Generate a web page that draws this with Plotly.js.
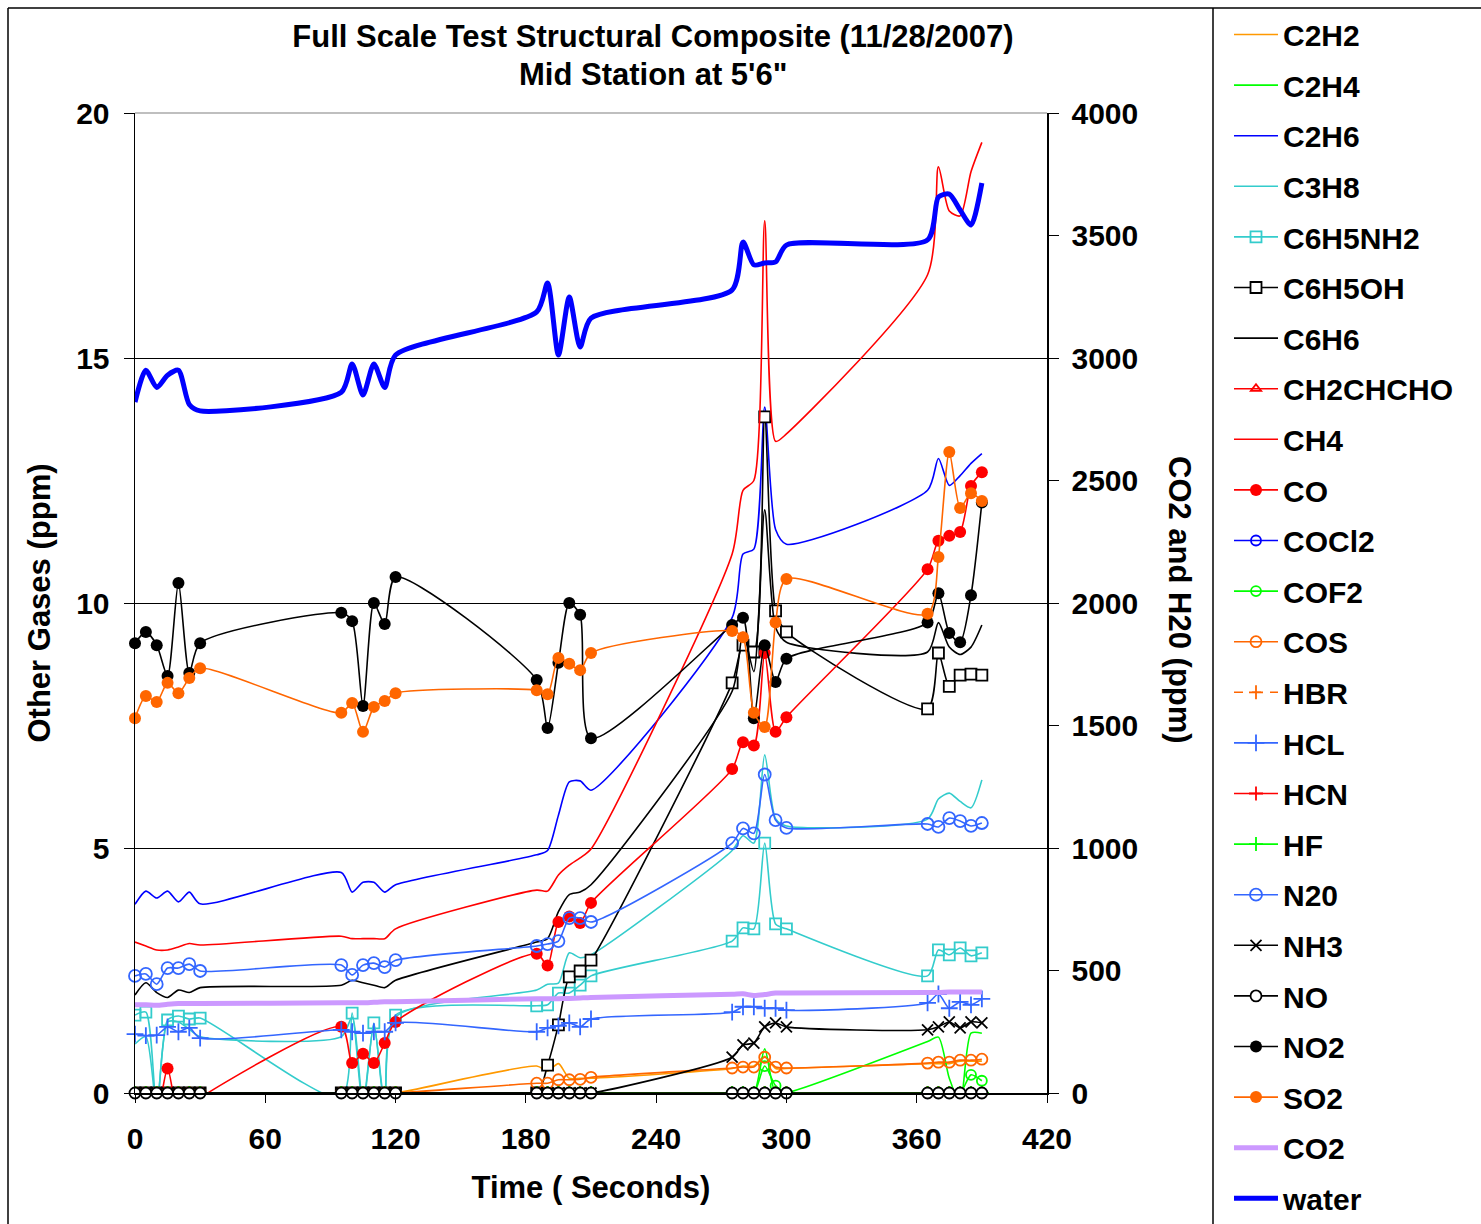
<!DOCTYPE html>
<html>
<head>
<meta charset="utf-8">
<script src="https://cdn.plot.ly/plotly-3.0.1.min.js"></script>
<style>
  html, body { margin: 0; padding: 0; background: #fff; }
  #chart { width: 1481px; height: 1224px; }
</style>
</head>
<body>
<div id="chart"></div>
<script>
// Sample times (seconds) shared by every gas series
const time = [0, 5, 10, 15, 20, 25, 30,
              95, 100, 105, 110, 115, 120,
              185, 190, 195, 200, 205, 210,
              275, 280, 285, 290, 295, 300,
              365, 370, 375, 380, 385, 390];

// Other gases (ppm, left axis)
const c2h2 = [0, 0, 0, 0, 0, 0, 0,  0, 0, 0, 0, 0, 0,
              0.55, 0.45, 0.6, 0.3, 0.3, 0.3,  0.5, 0.55, 0.55, 0.75, 0.5, 0.5,
              0.6, 0.6, 0.6, 0.65, 0.65, 0.65];
const c2h4 = [0, 0, 0, 0, 0, 0, 0,  0, 0, 0, 0, 0, 0,  0, 0, 0, 0, 0, 0,
              0, 0, 0, 0.9, 0, 0,  1.05, 1.14, 0.3, -0.2, 1.22, 1.22];
const c2h6 = [3.85, 4.12, 3.98, 4.12, 3.9, 4.1, 3.86,
              4.5, 4.1, 4.3, 4.3, 4.1, 4.25,
              4.86, 4.95, 5.67, 6.35, 6.37, 6.18,
              9.7, 11.0, 11.1, 14.0, 11.5, 11.2,
              12.3, 12.95, 12.4, 12.6, 12.85, 13.05];
const c3h8 = [1.0, 1.15, -0.3, 1.45, 1.45, 1.3, 1.15,
              1.15, 1.55, -0.2, 1.4, -0.2, 1.55,
              2.1, 2.22, 2.24, 2.86, 2.76, 2.82,
              4.95, 5.25, 5.1, 6.9, 5.6, 5.45,
              5.59, 6.0, 6.12, 5.95, 5.82, 6.39];
const c6h5nh2 = [1.59, 1.65, -0.3, 1.49, 1.57, 1.51, 1.53,
                 -0.1, 1.63, -0.3, 1.43, -0.3, 1.59,
                 1.78, 1.8, 2.04, 2.04, 2.2, 2.39,
                 3.1, 3.37, 3.35, 5.1, 3.45, 3.35,
                 2.39, 2.92, 2.82, 2.96, 2.8, 2.86];
const c6h5oh = [0, 0, 0, 0, 0, 0, 0,  0, 0, 0, 0, 0, 0,
                0, 0.57, 1.39, 2.37, 2.49, 2.71,
                8.37, 9.14, 9.0, 13.8, 9.84, 9.41,
                7.84, 8.98, 8.3, 8.53, 8.55, 8.53];
const c6h6 = [2.0, 2.25, 2.05, 1.95, 2.1, 2.05, 2.15,
              2.2, 2.3, 2.25, 2.2, 2.15, 2.3,
              3.08, 3.15, 3.7, 4.05, 4.1, 4.25,
              8.2, 9.4, 8.6, 11.9, 9.5, 9.2,
              9.0, 9.6, 9.1, 8.95, 9.1, 9.55];
const ch2chcho = Array(31).fill(0);
const ch4 = [3.08, 3.0, 2.92, 2.92, 2.98, 3.05, 3.02,
             3.2, 3.15, 3.15, 3.15, 3.15, 3.35,
             4.14, 4.12, 4.45, 4.65, 4.8, 4.98,
             11.0, 12.3, 12.5, 17.8, 13.3, 13.45,
             16.7, 18.9, 18.0, 17.9, 18.8, 19.4];
const co = [-0.5, -0.5, -0.4, 0.5, -0.4, -0.3, -0.1,
            1.35, 0.61, 0.8, 0.61, 1.02, 1.45,
            2.84, 2.6, 3.49, 3.6, 3.47, 3.88,
            6.61, 7.16, 7.09, 8.98, 7.37, 7.67,
            10.69, 11.27, 11.37, 11.45, 12.39, 12.67];
const cocl2 = Array(31).fill(0);
const cof2 = [0, 0, 0, 0, 0, 0, 0,  0, 0, 0, 0, 0, 0,  0, 0, 0, 0, 0, 0,
              0, 0, 0, 0.55, 0.15, 0,  0, 0, 0, 0, 0.37, 0.25];
const cos = [0, 0, 0, 0, 0, 0, 0,  0, 0, 0, 0, 0, 0,
             0.2, 0.2, 0.27, 0.27, 0.28, 0.32,
             0.51, 0.53, 0.53, 0.73, 0.53, 0.51,
             0.61, 0.63, 0.63, 0.67, 0.67, 0.69];
const hbr = Array(31).fill(0);
const hcl = [1.2, 1.17, 1.18, 1.35, 1.25, 1.33, 1.12,
             1.29, 1.25, 1.22, 1.25, 1.25, 1.43,
             1.25, 1.33, 1.37, 1.43, 1.35, 1.51,
             1.65, 1.76, 1.76, 1.73, 1.73, 1.69,
             1.84, 2.02, 1.73, 1.86, 1.8, 1.92];
const hcn = Array(31).fill(0);
const hf = Array(31).fill(0);
const n2o = [2.39, 2.43, 2.22, 2.55, 2.55, 2.63, 2.49,
             2.61, 2.41, 2.61, 2.65, 2.57, 2.71,
             3.0, 3.04, 3.1, 3.57, 3.57, 3.49,
             5.1, 5.4, 5.3, 6.5, 5.57, 5.41,
             5.49, 5.43, 5.61, 5.55, 5.45, 5.51];
const nh3 = [0, 0, 0, 0, 0, 0, 0,  0, 0, 0, 0, 0, 0,  0, 0, 0, 0, 0, 0,
             0.73, 0.98, 1.02, 1.35, 1.43, 1.35,
             1.29, 1.35, 1.45, 1.33, 1.45, 1.43];
const no = Array(31).fill(0);
const no2 = [9.18, 9.41, 9.14, 8.51, 10.41, 8.57, 9.18,
             9.8, 9.63, 7.9, 10.0, 9.57, 10.53,
             8.43, 7.45, 8.78, 10.0, 9.76, 7.24,
             9.55, 9.7, 7.65, 9.14, 8.39, 8.86,
             9.6, 10.2, 9.39, 9.2, 10.16, 12.05];
const so2 = [7.65, 8.1, 7.98, 8.37, 8.16, 8.47, 8.67,
             7.76, 7.96, 7.37, 7.88, 8.0, 8.16,
             8.22, 8.14, 8.88, 8.76, 8.63, 8.98,
             9.43, 9.3, 7.76, 7.47, 9.6, 10.49,
             9.78, 10.94, 13.08, 11.94, 12.24, 12.08];

// CO2 and water (ppm, right axis)
const co2 = [360, 360, 358, 362, 365, 365, 365,
             368, 368, 368, 370, 372, 372,
             385, 385, 385, 386, 388, 390,
             403, 405, 398, 402, 408, 408,
             410, 410, 412, 412, 412, 412];
const water = [2820, 2950, 2880, 2930, 2950, 2810, 2784,
               2860, 2976, 2849, 2976, 2880, 3012,
               3188, 3306, 3012, 3249, 3045, 3163,
               3278, 3473, 3380, 3388, 3392, 3461,
               3482, 3657, 3669, 3604, 3543, 3714];

// Trace styles
const FONT = 'Liberation Sans, Arial, Helvetica, sans-serif';
const seriesDefs = [
  {name: 'C2H2', y: c2h2, color: '#FF9900'},
  {name: 'C2H4', y: c2h4, color: '#00FF00'},
  {name: 'C2H6', y: c2h6, color: '#0000FF'},
  {name: 'C3H8', y: c3h8, color: '#33CCCC'},
  {name: 'C6H5NH2', y: c6h5nh2, color: '#33CCCC', symbol: 'square-open', size: 11, clip: true},
  {name: 'C6H5OH', y: c6h5oh, color: '#000000', symbol: 'square', fill: '#FFFFFF', size: 11, clip: true},
  {name: 'C6H6', y: c6h6, color: '#000000'},
  {name: 'CH2CHCHO', y: ch2chcho, color: '#FF0000', symbol: 'triangle-up-open', size: 9, clip: true},
  {name: 'CH4', y: ch4, color: '#FF0000'},
  {name: 'CO', y: co, color: '#FF0000', symbol: 'circle', size: 12, clip: true},
  {name: 'COCl2', y: cocl2, color: '#0000FF', symbol: 'circle-open', size: 10, clip: true},
  {name: 'COF2', y: cof2, color: '#00FF00', symbol: 'circle-open', size: 10, clip: true},
  {name: 'COS', y: cos, color: '#FF6600', symbol: 'circle-open', size: 11, clip: true},
  {name: 'HBR', y: hbr, color: '#FF6600', symbol: 'cross-thin-open', size: 10, dash: 'dash', clip: true},
  {name: 'HCL', y: hcl, color: '#3366FF', symbol: 'cross-thin-open', size: 12},
  {name: 'HCN', y: hcn, color: '#FF0000', symbol: 'cross-thin-open', size: 10, clip: true},
  {name: 'HF', y: hf, color: '#00FF00', symbol: 'cross-thin-open', size: 10, clip: true},
  {name: 'N20', y: n2o, color: '#3366FF', symbol: 'circle-open', size: 12},
  {name: 'NH3', y: nh3, color: '#000000', symbol: 'x-thin-open', size: 11, clip: true},
  {name: 'NO', y: no, color: '#000000', symbol: 'circle', fill: '#FFFFFF', size: 11},
  {name: 'NO2', y: no2, color: '#000000', symbol: 'circle', size: 12},
  {name: 'SO2', y: so2, color: '#FF6600', symbol: 'circle', size: 12},
  {name: 'CO2', y: co2, color: '#CC99FF', width: 5, axis: 'y2'},
  {name: 'water', y: water, color: '#0000FF', width: 5, axis: 'y2'}
];

const traces = seriesDefs.map(function (d) {
  const tr = {
    type: 'scatter',
    x: time,
    y: d.y,
    name: d.name,
    legendgroup: d.name,
    yaxis: d.axis || 'y',
    mode: d.symbol ? 'lines+markers' : 'lines',
    line: {color: d.color, width: d.width || 1.6, shape: 'spline', smoothing: 0.7,
           dash: d.dash || 'solid'},
    cliponaxis: !!d.clip
  };
  if (d.symbol) {
    const open = /open/.test(d.symbol);
    tr.marker = {
      symbol: d.symbol,
      size: d.size,
      color: d.fill || d.color,
      line: {color: d.color, width: open || d.fill ? 1.8 : 0}
    };
  }
  return tr;
});

const bold = {family: FONT, weight: 700, color: '#000'};
const px2x = function (p) { return (p - 135) / 912; };
const px2y = function (p) { return (1093 - p) / 980; };

const layout = {
  width: 1481,
  height: 1224,
  margin: {l: 135, r: 434, t: 113, b: 131, autoexpand: false},
  paper_bgcolor: '#FFFFFF',
  plot_bgcolor: '#FFFFFF',
  showlegend: true,
  title: {
    text: 'Full Scale Test Structural Composite (11/28/2007)',
    font: Object.assign({size: 31}, bold),
    x: px2x(653), xref: 'paper', xanchor: 'center',
    y: 1 - 36 / 1224, yref: 'container', yanchor: 'middle'
  },
  xaxis: {
    range: [0, 420], tick0: 0, dtick: 60,
    ticks: 'outside', ticklen: 8, tickcolor: '#000', tickwidth: 1,
    showline: true, linecolor: '#000', linewidth: 1.5,
    showgrid: false, zeroline: false,
    tickfont: Object.assign({size: 30}, bold),
    ticklabelstandoff: 10,
    title: {text: 'Time ( Seconds)', font: Object.assign({size: 31}, bold), standoff: 23}
  },
  yaxis: {
    range: [0, 20], tick0: 0, dtick: 5,
    ticks: 'outside', ticklen: 10, tickcolor: '#000', tickwidth: 1,
    showline: true, linecolor: '#000', linewidth: 1.5,
    showgrid: true, gridcolor: '#000', gridwidth: 1,
    zeroline: false,
    tickfont: Object.assign({size: 30}, bold),
    ticklabelstandoff: 8,
    title: {text: 'Other Gases (ppm)', font: Object.assign({size: 31}, bold), standoff: 16}
  },
  yaxis2: {
    overlaying: 'y', side: 'right',
    range: [0, 4000], tick0: 0, dtick: 500,
    ticks: 'outside', ticklen: 10, tickcolor: '#000', tickwidth: 1,
    showline: true, linecolor: '#000', linewidth: 1.5,
    showgrid: false, zeroline: false,
    tickfont: Object.assign({size: 30}, bold),
    ticklabelstandoff: 7
  },
  legend: {
    x: px2x(1229), xanchor: 'left', xref: 'paper',
    y: 1 - 8.5 / 1224, yanchor: 'top', yref: 'container',
    font: Object.assign({size: 30}, bold),
    tracegroupgap: 8.6,
    bgcolor: 'rgba(0,0,0,0)',
    itemwidth: 44,
    maxheight: 1400
  },
  annotations: [{
    text: 'Mid Station at 5\'6"',
    xref: 'paper', yref: 'paper',
    x: px2x(653), y: px2y(75),
    xanchor: 'center', yanchor: 'middle', showarrow: false,
    font: Object.assign({size: 31}, bold)
  }, {
    text: 'CO2 and H20 (ppm)',
    xref: 'paper', yref: 'paper',
    x: px2x(1180), y: px2y(600),
    xanchor: 'center', yanchor: 'middle',
    textangle: 90, showarrow: false,
    font: Object.assign({size: 31}, bold)
  }],
  shapes: [
    // top edge of the plotting area
    {type: 'line', xref: 'paper', yref: 'paper', layer: 'below',
     x0: 0, x1: 1, y0: 1, y1: 1,
     line: {color: '#808080', width: 1.2}},
    // outer frame and legend divider
    {type: 'line', xref: 'paper', yref: 'paper',
     x0: px2x(8), x1: px2x(1481), y0: px2y(8), y1: px2y(8),
     line: {color: '#000', width: 1.5}},
    {type: 'line', xref: 'paper', yref: 'paper',
     x0: px2x(8), x1: px2x(8), y0: px2y(8), y1: px2y(1230),
     line: {color: '#000', width: 1.5}},
    {type: 'line', xref: 'paper', yref: 'paper',
     x0: px2x(1213), x1: px2x(1213), y0: px2y(8), y1: px2y(1230),
     line: {color: '#000', width: 1.5}}
  ]
};

Plotly.newPlot('chart', traces, layout, {displayModeBar: false, staticPlot: true});
</script>
</body>
</html>
